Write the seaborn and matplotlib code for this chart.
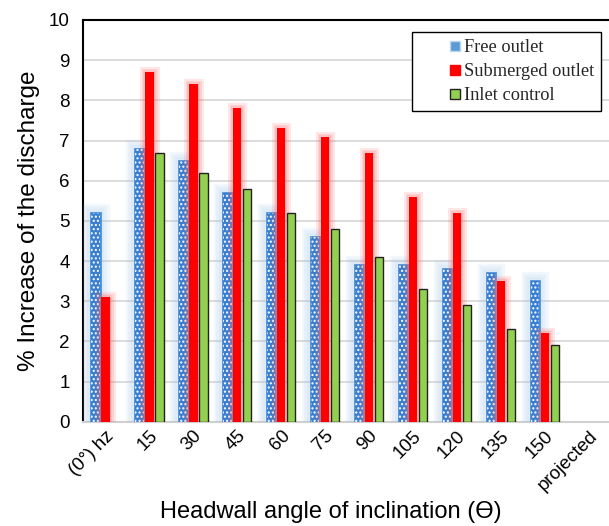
import numpy as np
import pandas as pd
import matplotlib
matplotlib.use("Agg")
import matplotlib.pyplot as plt
import matplotlib.patheffects as pe
from matplotlib.lines import Line2D
import seaborn as sns

categories = ["(0°) hz", "15", "30", "45", "60", "75", "90", "105", "120", "135", "150", "projected"]
free_outlet = [5.2, 6.8, 6.5, 5.7, 5.2, 4.6, 3.9, 3.9, 3.8, 3.7, 3.5, np.nan]
submerged_outlet = [3.1, 8.7, 8.4, 7.8, 7.3, 7.1, 6.7, 5.6, 5.2, 3.5, 2.2, np.nan]
inlet_control = [np.nan, 6.7, 6.2, 5.8, 5.2, 4.8, 4.1, 3.3, 2.9, 2.3, 1.9, np.nan]
series_names = ["Free outlet", "Submerged outlet", "Inlet control"]

df = pd.DataFrame({
    "angle": categories * 3,
    "value": free_outlet + submerged_outlet + inlet_control,
    "series": [series_names[0]] * 12 + [series_names[1]] * 12 + [series_names[2]] * 12,
})

sns.set_theme(style="white")
plt.rcParams["font.family"] = ["Liberation Sans", "DejaVu Sans"]

blue = "#3A7FCF"
red = "#FF0000"
green = "#92D050"

fig = plt.figure(figsize=(6.09, 5.26), dpi=100)
ax = fig.add_axes([0.137, 0.198, 0.866, 0.764])

sns.barplot(data=df, x="angle", y="value", hue="series", order=categories,
            hue_order=series_names, palette=[blue, red, green], width=0.68,
            gap=0.15, ax=ax, legend=False, zorder=3)

plt.rcParams["hatch.linewidth"] = 1.2
blue_glow = [pe.Stroke(linewidth=w, foreground="#9CC3EA", alpha=0.12) for w in (14, 10, 6)]
red_glow = [pe.Stroke(linewidth=w, foreground="#FF6060", alpha=0.15) for w in (8, 5, 3)]
for i, cont in enumerate(ax.containers):
    for bar in cont:
        if i == 0:
            bar.set_facecolor(blue)
            bar.set_edgecolor("white")
            bar.set_hatch("....")
            bar.set_linewidth(0)
            bar.set_path_effects(blue_glow + [pe.Stroke(linewidth=2, foreground="#4A90D9"), pe.Normal()])
        elif i == 1:
            bar.set_facecolor(red)
            bar.set_edgecolor(red)
            bar.set_linewidth(0)
            bar.set_path_effects(red_glow + [pe.Normal()])
        else:
            bar.set_facecolor(green)
            bar.set_edgecolor("#222222")
            bar.set_linewidth(1.0)

ax.set_ylim(0, 10)
ax.set_yticks(range(0, 11))
ax.yaxis.grid(True, color="#D9D9D9", linewidth=1.3, zorder=0)
ax.set_axisbelow(True)
ax.set_xlim(-0.5, len(categories) - 0.5)

for s in ["left", "top"]:
    ax.spines[s].set_color("black")
    ax.spines[s].set_linewidth(1.5)
ax.spines["bottom"].set_color("#D0D0D0")
ax.spines["bottom"].set_linewidth(1.5)
ax.spines["right"].set_visible(False)

ax.tick_params(axis="y", labelsize=13.5, length=0, pad=10, colors="black")
ax.tick_params(axis="x", labelsize=13.5, length=0, pad=4, colors="black")
plt.setp(ax.get_xticklabels(), rotation=45, ha="right", rotation_mode="anchor")

ax.set_xlabel("Headwall angle of inclination (ϴ)", fontsize=17, color="black")
ax.xaxis.set_label_coords(0.469, -0.198)
ax.set_ylabel("% Increase of the discharge", fontsize=17.5, labelpad=6, color="black")

handles = [
    Line2D([], [], linestyle="none", marker="s", markersize=7, markerfacecolor="#5B9BD5",
           markeredgecolor="#BDD7EE", markeredgewidth=1),
    Line2D([], [], linestyle="none", marker="s", markersize=7, markerfacecolor=red,
           markeredgecolor=red),
    Line2D([], [], linestyle="none", marker="s", markersize=7, markerfacecolor=green,
           markeredgecolor="#222222", markeredgewidth=1),
]
leg = ax.legend(handles, series_names, loc="upper right", bbox_to_anchor=(0.9885, 0.98),
                frameon=True, fancybox=False, framealpha=1, edgecolor="black",
                prop={"family": "Liberation Serif", "size": 13.2}, handlelength=3.9,
                numpoints=1, handletextpad=-1.5, borderpad=0.4, labelspacing=0.38,
                borderaxespad=0.2)
leg.get_frame().set_linewidth(1.0)
leg.set_zorder(5)

fig.savefig("out.png", dpi=100)
